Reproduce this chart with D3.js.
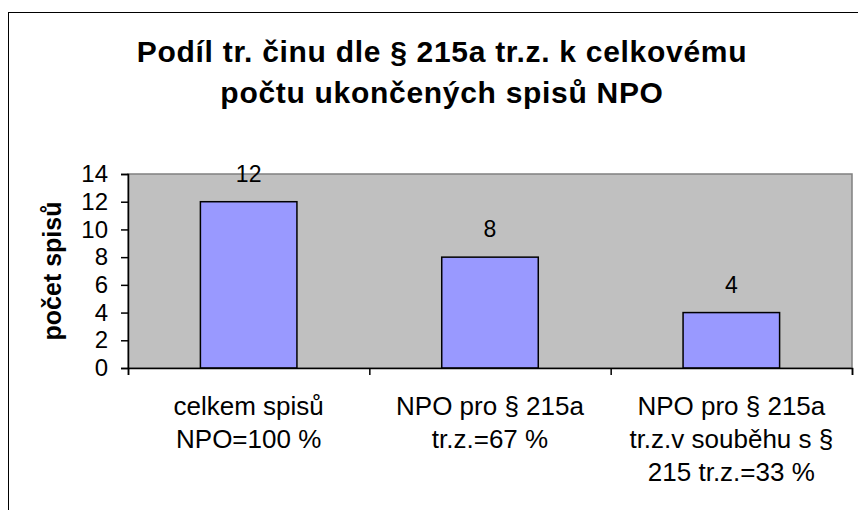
<!DOCTYPE html>
<html>
<head>
<meta charset="utf-8">
<script src="https://cdn.jsdelivr.net/npm/d3@7"></script>
<style>
  body { margin: 0; background: #fff; }
  text { font-family: "Liberation Sans", Arial, sans-serif; fill: #000; }
</style>
</head>
<body>
<div id="chart"></div>
<script>
// data
const titleLines = ["Podíl tr. činu dle § 215a tr.z. k celkovému", "počtu ukončených spisů NPO"];
const yTitle = "počet spisů";
const categories = [
  ["celkem spisů", "NPO=100 %"],
  ["NPO pro § 215a", "tr.z.=67 %"],
  ["NPO pro § 215a", "tr.z.v souběhu s §", "215 tr.z.=33 %"]
];
const values = [12, 8, 4];
const yTicks = [0, 2, 4, 6, 8, 10, 12, 14];

const width = 858, height = 510;
const plot = { left: 128, right: 852, top: 174, bottom: 368 };

const svg = d3.select("#chart").append("svg")
    .attr("width", width)
    .attr("height", height);

// outer chart frame (runs past the right and bottom edge)
svg.append("rect")
    .attr("x", 8.5).attr("y", 12.5)
    .attr("width", 870).attr("height", 520)
    .attr("fill", "#fff")
    .attr("stroke", "#000");

// title
svg.append("g").selectAll("text")
    .data(titleLines)
    .join("text")
    .attr("x", 442)
    .attr("y", (d, i) => 62 + i * 41)
    .attr("text-anchor", "middle")
    .style("font-size", "30px")
    .style("letter-spacing", "0.7px")
    .style("font-weight", "bold")
    .text(d => d);

const y = d3.scaleLinear().domain([0, 14]).range([plot.bottom, plot.top]);
const x = d3.scaleBand()
    .domain(d3.range(categories.length))
    .range([plot.left, plot.right])
    .paddingInner(0.6)
    .paddingOuter(0.3);

// plot area
svg.append("rect")
    .attr("x", plot.left).attr("y", plot.top)
    .attr("width", plot.right - plot.left)
    .attr("height", plot.bottom - plot.top)
    .attr("fill", "#c0c0c0")
    .attr("stroke", "#808080")
    .attr("stroke-width", 1.5);

// bars
svg.append("g").selectAll("rect")
    .data(values)
    .join("rect")
    .attr("x", (d, i) => x(i))
    .attr("y", d => y(d))
    .attr("width", x.bandwidth())
    .attr("height", d => y(0) - y(d))
    .attr("fill", "#9999ff")
    .attr("stroke", "#000")
    .attr("stroke-width", 1.5);

// value labels
svg.append("g").selectAll("text")
    .data(values)
    .join("text")
    .attr("x", (d, i) => x(i) + x.bandwidth() / 2)
    .attr("y", d => y(d) - 20)
    .attr("text-anchor", "middle")
    .style("font-size", "23px")
    .text(d => d);

// y axis
const yAxis = svg.append("g")
    .attr("transform", `translate(${plot.left},0)`)
    .call(d3.axisLeft(y).tickValues(yTicks).tickSize(7).tickPadding(13));
yAxis.select(".domain").attr("stroke", "#000").attr("stroke-width", 1.5);
yAxis.selectAll("line").attr("stroke", "#000").attr("stroke-width", 1.5);
yAxis.selectAll("text")
    .style("font-size", "24px")
    .style("font-family", "'Liberation Sans', Arial, sans-serif")
    .attr("fill", "#000");

// x axis, ticks between categories
const xEdges = d3.scaleLinear().domain([0, categories.length]).range([plot.left, plot.right]);
const xAxis = svg.append("g")
    .attr("transform", `translate(0,${plot.bottom})`)
    .call(d3.axisBottom(xEdges).tickValues(d3.range(categories.length + 1)).tickSize(7).tickFormat(""));
xAxis.select(".domain").attr("stroke", "#000").attr("stroke-width", 1.5);
xAxis.selectAll("line").attr("stroke", "#000").attr("stroke-width", 1.5);

// category labels
const catG = svg.append("g").selectAll("text")
    .data(categories)
    .join("text")
    .attr("text-anchor", "middle")
    .style("font-size", "26px");
catG.selectAll("tspan")
    .data((d, i) => d.map(line => ({ line, i })))
    .join("tspan")
    .attr("x", d => x(d.i) + x.bandwidth() / 2)
    .attr("y", (d, j) => 415 + j * 33)
    .text(d => d.line);

// y title
svg.append("text")
    .attr("transform", `translate(61,${(plot.top + plot.bottom) / 2}) rotate(-90)`)
    .attr("text-anchor", "middle")
    .style("font-size", "25px")
    .style("font-weight", "bold")
    .text(yTitle);
</script>
</body>
</html>
